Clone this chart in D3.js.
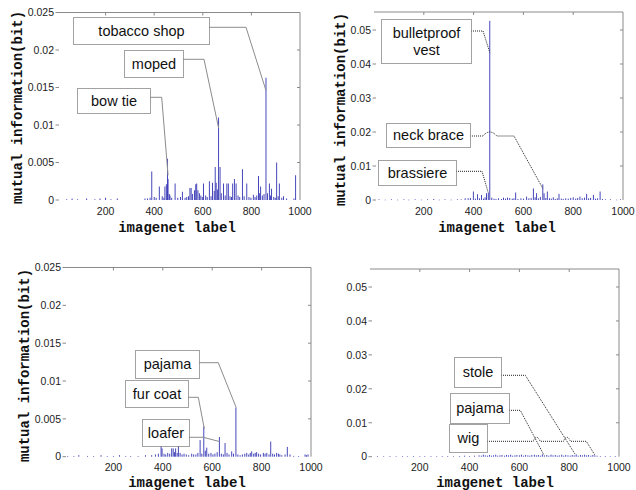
<!DOCTYPE html>
<html>
<head>
<meta charset="utf-8">
<script src="https://cdn.jsdelivr.net/npm/d3@7"></script>
<style>
  html, body { margin: 0; padding: 0; background: #fff; }
  svg { display: block; }
</style>
</head>
<body>
<div id="chart"></div>
<script>
// ---- data ----
const xTicks = [200, 400, 600, 800, 1000];
const yTicksSmall = [0, 0.005, 0.01, 0.015, 0.02, 0.025];
const yTicksLarge = [0, 0.01, 0.02, 0.03, 0.04, 0.05];
const xTitle = "imagenet label";
const yTitle = "mutual information(bit)";

// panel 1 (top left)
const p1Labels = [40, 62, 85, 122, 156, 177, 200, 222, 248, 362, 372, 383, 390, 400, 408, 421, 433, 440, 444, 450, 455, 457, 462, 465, 472, 486, 497, 508, 516, 527, 534, 541, 547, 552, 558, 566, 571, 575, 580, 586, 592, 598, 603, 612, 618, 627, 634, 640, 647, 651, 655, 660, 665, 671, 676, 685, 692, 699, 705, 712, 718, 723, 730, 737, 745, 752, 763, 770, 781, 790, 798, 808, 815, 822, 829, 834, 838, 845, 852, 860, 866, 874, 879, 883, 892, 898, 904, 910, 915, 925, 932, 945, 975, 982];
const p1Values = [0.0001, 0.0002, 0.0001, 0.0002, 0.0001, 0.0002, 0.0003, 0.0001, 0.0002, 0.0002, 0.0002, 0.0003, 0.0038, 0.0004, 0.0003, 0.0018, 0.0005, 0.0003, 0.0018, 0.0021, 0.0055, 0.0028, 0.0008, 0.0006, 0.0003, 0.0022, 0.0003, 0.0004, 0.0011, 0.0003, 0.0004, 0.0005, 0.0016, 0.0016, 0.0008, 0.0013, 0.0021, 0.0022, 0.0013, 0.0009, 0.0006, 0.0004, 0.0022, 0.0006, 0.0004, 0.0025, 0.0005, 0.0023, 0.0012, 0.0044, 0.0023, 0.0014, 0.011, 0.0044, 0.0009, 0.0022, 0.0006, 0.0022, 0.0022, 0.0005, 0.0004, 0.0022, 0.0028, 0.0022, 0.0006, 0.0004, 0.0041, 0.0005, 0.0022, 0.0004, 0.0003, 0.0007, 0.0004, 0.0006, 0.0032, 0.0009, 0.0018, 0.0006, 0.0008, 0.0163, 0.0009, 0.0022, 0.0006, 0.0015, 0.0004, 0.0003, 0.005, 0.0005, 0.0022, 0.0003, 0.0005, 0.0002, 0.0002, 0.0033];
const p1Notes = ["tobacco shop", "moped", "bow tie"];
const p1NoteLabels = [860, 665, 457];
const p1NoteValues = [0.0146, 0.0096, 0.0033];

// panel 2 (top right)
const p2Labels = [20, 45, 70, 95, 120, 140, 165, 190, 215, 240, 262, 285, 310, 335, 350, 366, 378, 387, 399, 407, 416, 424, 432, 440, 446, 452, 459, 465, 473, 482, 490, 500, 512, 520, 528, 536, 545, 555, 562, 569, 578, 590, 600, 613, 622, 631, 640, 647, 653, 660, 668, 678, 683, 690, 696, 705, 712, 720, 728, 736, 743, 752, 760, 770, 780, 790, 800, 810, 818, 827, 836, 845, 854, 862, 870, 881, 890, 898, 908, 918, 930, 950, 975, 990];
const p2Values = [0.0002, 0.0001, 0.0002, 0.0001, 0.0002, 0.0001, 0.0002, 0.0001, 0.0002, 0.0003, 0.0001, 0.0002, 0.0001, 0.0002, 0.0002, 0.0005, 0.0005, 0.0006, 0.0025, 0.0004, 0.0017, 0.0005, 0.0015, 0.0004, 0.0008, 0.002, 0.0021, 0.0527, 0.0007, 0.0004, 0.0003, 0.0005, 0.0003, 0.0007, 0.0004, 0.0007, 0.0006, 0.0004, 0.0005, 0.0022, 0.0003, 0.0005, 0.0004, 0.001, 0.0005, 0.0006, 0.0034, 0.0008, 0.002, 0.0005, 0.0009, 0.0046, 0.002, 0.0006, 0.0025, 0.0005, 0.0004, 0.0008, 0.0003, 0.0005, 0.0018, 0.0004, 0.0003, 0.0005, 0.0004, 0.0006, 0.0008, 0.0004, 0.0006, 0.001, 0.0005, 0.0007, 0.0018, 0.0005, 0.0006, 0.0015, 0.0004, 0.0005, 0.0025, 0.0003, 0.0002, 0.0002, 0.0001, 0.0002];
const p2Notes = ["bulletproof\nvest", "neck brace", "brassiere"];
const p2NoteLabels = [465, 678, 459];
const p2NoteValues = [0.0434, 0.0034, 0.0021];

// panel 3 (bottom left)
const p3Labels = [15, 40, 60, 95, 120, 150, 175, 200, 225, 250, 270, 300, 330, 355, 370, 382, 393, 397, 405, 412, 420, 428, 436, 442, 447, 452, 458, 463, 470, 478, 486, 495, 505, 517, 525, 534, 542, 551, 558, 566, 572, 578, 586, 595, 603, 611, 620, 629, 637, 645, 652, 660, 668, 679, 686, 696, 704, 713, 722, 732, 740, 748, 754, 760, 768, 774, 780, 788, 796, 807, 814, 821, 830, 837, 845, 852, 861, 868, 874, 882, 895, 904, 915, 930, 950, 976, 982, 988];
const p3Values = [0.0001, 0.0001, 0.0002, 0.0001, 0.0001, 0.0002, 0.0001, 0.0001, 0.0002, 0.0001, 0.0001, 0.0001, 0.0002, 0.0002, 0.0003, 0.0004, 0.0015, 0.0011, 0.0004, 0.0003, 0.0005, 0.0004, 0.0011, 0.0011, 0.0006, 0.0011, 0.0005, 0.0014, 0.0005, 0.0003, 0.0004, 0.0003, 0.0002, 0.0004, 0.0003, 0.0003, 0.0005, 0.0022, 0.0004, 0.004, 0.0008, 0.0012, 0.0004, 0.0005, 0.0003, 0.0004, 0.0006, 0.0026, 0.0004, 0.0003, 0.0018, 0.0005, 0.0003, 0.0007, 0.0004, 0.0065, 0.0003, 0.0002, 0.0003, 0.0004, 0.0005, 0.0003, 0.0005, 0.0007, 0.0004, 0.0005, 0.0006, 0.0004, 0.0003, 0.0005, 0.0004, 0.0005, 0.0003, 0.002, 0.0004, 0.0003, 0.0005, 0.0004, 0.0003, 0.0002, 0.0003, 0.0013, 0.0003, 0.0001, 0.0001, 0.0003, 0.0002, 0.0003];
const p3Notes = ["pajama", "fur coat", "loafer"];
const p3NoteLabels = [697, 568, 630];
const p3NoteValues = [0.0065, 0.0037, 0.002];

// panel 4 (bottom right)
const p4Labels = [30, 55, 80, 105, 130, 150, 175, 200, 220, 245, 268, 290, 312, 335, 360, 380, 400, 420, 438, 447, 455, 463, 472, 480, 488, 496, 505, 513, 522, 530, 540, 548, 556, 565, 573, 582, 590, 600, 608, 617, 625, 634, 642, 650, 660, 668, 676, 684, 692, 700, 710, 718, 727, 735, 744, 752, 760, 770, 778, 786, 795, 804, 812, 820, 828, 836, 845, 853, 862, 870, 878, 887, 895, 903, 912, 925, 945, 965, 985];
const p4Values = [0.0002, 0.0001, 0.0002, 0.0001, 0.0002, 0.0001, 0.0002, 0.0001, 0.0002, 0.0002, 0.0001, 0.0002, 0.0002, 0.0001, 0.0002, 0.0003, 0.0002, 0.0003, 0.0004, 0.0003, 0.0006, 0.0004, 0.0003, 0.0005, 0.0003, 0.0004, 0.0006, 0.0003, 0.0004, 0.0005, 0.0003, 0.0005, 0.0004, 0.0006, 0.0003, 0.0004, 0.0005, 0.0004, 0.0006, 0.0003, 0.0005, 0.0004, 0.0003, 0.0005, 0.0006, 0.0004, 0.0005, 0.0003, 0.0007, 0.0004, 0.0005, 0.0003, 0.0006, 0.0004, 0.0005, 0.0003, 0.0004, 0.0006, 0.0003, 0.0005, 0.0004, 0.0003, 0.0005, 0.0004, 0.0007, 0.0003, 0.0005, 0.0004, 0.0006, 0.0004, 0.0005, 0.0003, 0.0005, 0.0004, 0.0003, 0.0002, 0.0002, 0.0001, 0.0002];
const p4Notes = ["stole", "pajama", "wig"];
const p4NoteLabels = [824, 697, 903];
const p4NoteValues = [0.0007, 0.0007, 0.0005];

// ---- layout (pixel placement of each panel and its callout boxes) ----
const W = 636, H = 490;
const panels = [
  {
    labels: p1Labels, values: p1Values, notes: p1Notes, noteLabels: p1NoteLabels, noteValues: p1NoteValues,
    xRange: [57, 300], yRange: [200, 12.5], yMax: 0.025, yTicks: yTicksSmall,
    yTitlePos: [17.5, 107.5], xTitlePos: [177, 231.5], dotted: false,
    boxes: [
      { box: [73, 17, 136, 27], lineY: 27.3, elbow: 246 },
      { box: [124, 50, 59, 27], lineY: 59.3, elbow: 204 },
      { box: [77, 88, 73, 25], lineY: 97.3, elbow: 161.7 }
    ]
  },
  {
    labels: p2Labels, values: p2Values, notes: p2Notes, noteLabels: p2NoteLabels, noteValues: p2NoteValues,
    xRange: [374, 623], yRange: [200, 12], yMax: 0.0553, yTicks: yTicksLarge,
    yTitlePos: [340.5, 109.5], xTitlePos: [497, 231.5], dotted: true,
    boxes: [
      { box: [381, 19, 90, 44], lineY: 31, elbow: 483 },
      { box: [386, 123, 84, 24], lineY: 136, elbow: 514 },
      { box: [378, 160, 78, 25], lineY: 171.3, elbow: 482 }
    ]
  },
  {
    labels: p3Labels, values: p3Values, notes: p3Notes, noteLabels: p3NoteLabels, noteValues: p3NoteValues,
    xRange: [64, 311], yRange: [456.7, 267.5], yMax: 0.025, yTicks: yTicksSmall,
    yTitlePos: [24, 365.5], xTitlePos: [187, 486.5], dotted: false,
    boxes: [
      { box: [135, 350, 64, 28], lineY: 362.7, elbow: 218.3 },
      { box: [125, 380, 63, 27], lineY: 397.3, elbow: 198.3 },
      { box: [142, 419, 47, 27], lineY: 437.3, elbow: 203.3 }
    ]
  },
  {
    labels: p4Labels, values: p4Values, notes: p4Notes, noteLabels: p4NoteLabels, noteValues: p4NoteValues,
    xRange: [370, 619], yRange: [456.7, 269], yMax: 0.0553, yTicks: yTicksLarge,
    yTitlePos: null, xTitlePos: [495, 486.5], dotted: true,
    boxes: [
      { box: [454, 357, 47, 30], lineY: 375.3, elbow: 525.3 },
      { box: [450, 393, 59, 30], lineY: 410.3, elbow: 520.3 },
      { box: [449, 424, 38, 28], lineY: 441.3, elbow: 586.3 }
    ]
  }
];

const svg = d3.select("#chart").append("svg")
  .attr("width", W)
  .attr("height", H)
  .style("background", "#fff");

const sansFont = "Helvetica, Arial, 'Liberation Sans', sans-serif";
const monoFont = "'Courier New', 'Liberation Mono', monospace";
const axisGray = "#8a8a8a";

panels.forEach(drawPanel);

function drawPanel(p) {
  const x = d3.scaleLinear().domain([0, 1000]).range(p.xRange);
  const y = d3.scaleLinear().domain([0, p.yMax]).range(p.yRange);
  const g = svg.append("g");
  const [x0, x1] = p.xRange;
  const yTop = p.yRange[1], yZero = p.yRange[0];

  // bars
  const bars = p.labels.map((l, i) => ({ label: l, value: p.values[i] }));
  g.append("g").selectAll("rect")
    .data(bars)
    .join("rect")
    .attr("x", d => x(d.label) - 0.45)
    .attr("width", 0.9)
    .attr("y", d => y(d.value))
    .attr("height", d => Math.max(0.6, yZero - y(d.value)))
    .attr("fill", "#3434b4");

  // box: top + right edges only
  g.append("path")
    .attr("d", `M${x0},${yTop}H${x1}V${yZero}`)
    .attr("fill", "none")
    .attr("stroke", axisGray)
    .attr("stroke-width", 1);

  // top ticks (inward)
  g.append("g").selectAll("line")
    .data(xTicks.filter(t => t < 1000))
    .join("line")
    .attr("x1", d => x(d)).attr("x2", d => x(d))
    .attr("y1", yTop).attr("y2", yTop + 3)
    .attr("stroke", axisGray);

  // y ticks left + right
  const yt = g.append("g");
  yt.selectAll(".tl").data(p.yTicks).join("line").attr("class", "tl")
    .attr("x1", x0 - 1.5).attr("x2", x0 + 2)
    .attr("y1", d => y(d)).attr("y2", d => y(d))
    .attr("stroke", axisGray);
  yt.selectAll(".tr").data(p.yTicks.filter(t => t > 0)).join("line").attr("class", "tr")
    .attr("x1", x1 - 3).attr("x2", x1)
    .attr("y1", d => y(d)).attr("y2", d => y(d))
    .attr("stroke", axisGray);

  // y tick labels
  yt.selectAll("text").data(p.yTicks).join("text")
    .attr("x", x0 - 3)
    .attr("y", d => y(d))
    .attr("dy", "0.36em")
    .attr("text-anchor", "end")
    .attr("font-family", sansFont)
    .attr("font-size", 10.5)
    .attr("fill", "#222")
    .text(d => d === 0 ? "0" : String(d));

  // x tick labels
  g.append("g").selectAll("text").data(xTicks).join("text")
    .attr("x", d => x(d))
    .attr("y", yZero + 14.5)
    .attr("text-anchor", "middle")
    .attr("font-family", sansFont)
    .attr("font-size", 10.5)
    .attr("fill", "#222")
    .text(d => d);

  // axis titles
  g.append("text")
    .attr("x", p.xTitlePos[0]).attr("y", p.xTitlePos[1])
    .attr("text-anchor", "middle")
    .attr("font-family", monoFont)
    .attr("font-weight", "bold")
    .attr("font-size", 14)
    .attr("fill", "#111")
    .text(xTitle);

  if (p.yTitlePos) {
    g.append("text")
      .attr("transform", `translate(${p.yTitlePos[0]},${p.yTitlePos[1]}) rotate(-90)`)
      .attr("text-anchor", "middle")
      .attr("dy", "0.35em")
      .attr("font-family", monoFont)
      .attr("font-weight", "bold")
      .attr("font-size", 14)
      .attr("fill", "#111")
      .text(yTitle);
  }

  // callouts
  const notes = p.notes.map((n, i) => {
    const b = p.boxes[i];
    return {
      name: n,
      sx: b.box[0] + b.box[2], sy: b.lineY, ex: b.elbow,
      tx: x(p.noteLabels[i]), ty: y(p.noteValues[i]),
      box: b.box
    };
  });

  notes.forEach(n => {
    // hops over tall bars and over other callout lines crossed by the horizontal run
    const hops = [];
    bars.forEach(d => {
      const bx = x(d.label);
      if (bx > n.sx + 2 && bx < n.ex - 2 && y(d.value) < n.sy - 2) hops.push({ at: bx, w: 7 });
    });
    notes.forEach(o => {
      if (o === n) return;
      const lo = Math.min(o.sy, o.ty), hi = Math.max(o.sy, o.ty);
      if (n.sy <= lo || n.sy >= hi) return;
      const t = (n.sy - o.sy) / (o.ty - o.sy);
      const cx = o.ex + t * (o.tx - o.ex);
      if (cx > n.sx + 2 && cx < n.ex - 2) hops.push({ at: cx, w: 3.5 });
    });
    hops.sort((a, b) => a.at - b.at);
    let d = `M${n.sx},${n.sy}`;
    hops.forEach(h => {
      d += `L${h.at - h.w},${n.sy}Q${h.at},${n.sy - 8} ${h.at + h.w},${n.sy}`;
    });
    d += `L${n.ex},${n.sy}L${n.tx},${n.ty}`;
    g.append("path")
      .attr("d", d)
      .attr("fill", "none")
      .attr("stroke", p.dotted ? "#222" : "#8c8c8c")
      .attr("stroke-width", 1)
      .attr("stroke-dasharray", p.dotted ? "1,1" : null);
  });

  notes.forEach(n => {
    const [bx, by, bw, bh] = n.box;
    g.append("rect")
      .attr("x", bx + 0.5).attr("y", by + 0.5)
      .attr("width", bw).attr("height", bh)
      .attr("fill", "#fff")
      .attr("stroke", "#444")
      .attr("stroke-width", 1)
      .attr("stroke-dasharray", "1,1");
    const lines = n.name.split("\n");
    const lh = 17.4;
    const t = g.append("text")
      .attr("text-anchor", "middle")
      .attr("font-family", sansFont)
      .attr("font-size", 14.5)
      .attr("fill", "#111");
    lines.forEach((s, i) => {
      t.append("tspan")
        .attr("x", bx + bw / 2 + 0.5)
        .attr("y", by + bh / 2 + (i - (lines.length - 1) / 2) * lh)
        .attr("dy", "0.36em")
        .text(s);
    });
  });
}
</script>
</body>
</html>
